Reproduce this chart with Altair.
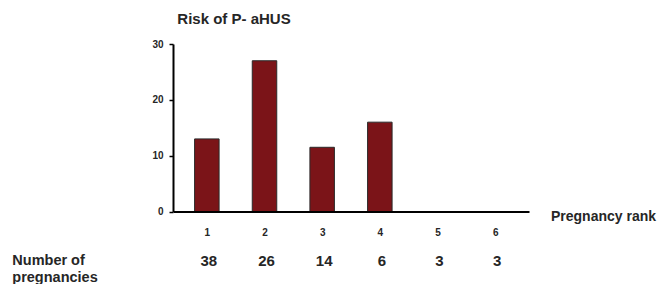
import altair as alt
import pandas as pd

ranks = [1, 2, 3, 4, 5, 6]
risk = [13, 27, 11.5, 16, 0, 0]
n_preg = ["38", "26", "14", "6", "3", "3"]
y_ticks = [0, 10, 20, 30]

title_text = "Risk of P- aHUS"
x_title = "Pregnancy rank"
row_label = ["Number of", "pregnancies"]

FONT = "Liberation Sans"
BAR = "#7b1418"
TXT = "#262626"

df = pd.DataFrame({"rank": ranks, "risk": risk, "n": n_preg})

W, H = 356, 167.5

xscale = alt.Scale(domain=[0.5, 6.5], nice=False, zero=False)
yscale = alt.Scale(domain=[0, 30], nice=False)

xaxis = alt.Axis(values=ranks, title=None, ticks=False, grid=False,
                 labelFont=FONT, labelFontWeight="bold", labelFontSize=10,
                 labelColor=TXT, labelPadding=16, domainColor="black",
                 domainWidth=2, labelFlush=False, format="d", zindex=1)
yaxis = alt.Axis(values=y_ticks, title=None, grid=False, tickSize=4,
                 tickWidth=1.5, tickColor="black", domainColor="black",
                 domainWidth=2, labelFont=FONT, labelFontWeight="bold",
                 labelFontSize=10, labelColor=TXT, labelPadding=6,
                 labelFlush=False, zindex=1)

bars = alt.Chart(df).mark_bar(size=24.5, fill=BAR, stroke="#2a2a2a", strokeWidth=1).encode(
    x=alt.X("rank:Q", scale=xscale, axis=xaxis),
    y=alt.Y("risk:Q", scale=yscale, axis=yaxis),
)

counts = alt.Chart(df).mark_text(font=FONT, fontWeight="bold", fontSize=15,
                                 color=TXT, baseline="alphabetic", dx=2).encode(
    x=alt.X("rank:Q", scale=xscale, axis=xaxis),
    y=alt.value(221.5),
    text="n:N",
)

def label(txt, x, y, size=15):
    return alt.Chart(pd.DataFrame({"t": [txt]})).mark_text(
        font=FONT, fontWeight="bold", fontSize=size, color=TXT, align="left",
        baseline="alphabetic").encode(x=alt.value(x), y=alt.value(y), text="t:N")

title = label(title_text, 4.3, -20)
xt = label(x_title, 378, 176.5, 14)
rl1 = label(row_label[0], -160.7, 220.5, 14.5)
rl2 = label(row_label[1], -160.7, 237.5, 14.5)

chart = alt.layer(bars, counts, title, xt, rl1, rl2).properties(
    width=W, height=H,
    autosize=alt.AutoSizeParams(type="none"),
    padding={"left": 165, "top": 36, "right": 130, "bottom": 72.5},
).configure(background="white").configure_view(stroke=None)

chart.save("out.html", embed_options={"renderer": "svg", "actions": False})
